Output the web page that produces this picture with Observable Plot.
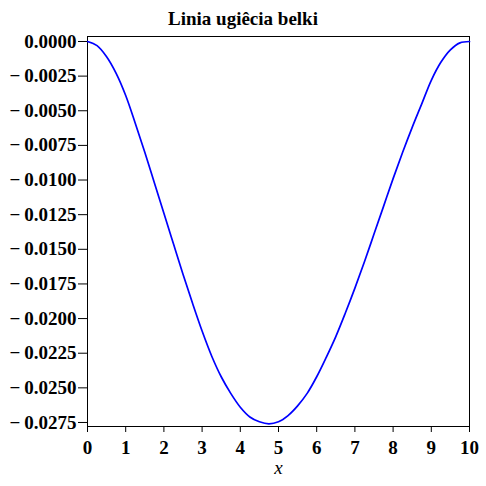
<!DOCTYPE html>
<html>
<head>
<meta charset="utf-8">
<script src="https://cdn.jsdelivr.net/npm/d3@7"></script>
<script src="https://cdn.jsdelivr.net/npm/@observablehq/plot@0.6"></script>
<style>
  html, body { margin: 0; padding: 0; background: #fff; }
  #title { box-sizing: border-box; width: 486px; height: 35px; padding-top: 9px;
    text-align: center; font-family: "Liberation Serif", serif; font-weight: bold;
    font-size: 19px; line-height: 19px; color: #000; }
  svg { display: block; }
  svg text { font-family: "Liberation Serif", serif !important; }
</style>
</head>
<body>
<div id="title"></div>
<div id="chart"></div>
<script>
const titleText = "Linia ugiêcia belki";
const xLabel = "x";
const xs = [0, 0.25, 0.5, 0.75, 1, 1.25, 1.5, 1.75, 2, 2.25, 2.5, 2.75, 3, 3.25, 3.5, 3.75, 4, 4.25, 4.5, 4.75, 5,
  5.25, 5.5, 5.75, 6, 6.25, 6.5, 6.75, 7, 7.25, 7.5, 7.75, 8, 8.25, 8.5, 8.75, 9, 9.25, 9.5, 9.75, 10];
const ys = [0, -0.0003, -0.0011, -0.0023, -0.0039, -0.0059, -0.0080, -0.0102, -0.0124, -0.0146, -0.0168, -0.0189,
  -0.0209, -0.0227, -0.0242, -0.0254, -0.0264, -0.0271, -0.02745, -0.0276, -0.02745,
  -0.0270, -0.0263, -0.0254, -0.0242, -0.0228, -0.0213, -0.0196, -0.0178, -0.0159, -0.0139, -0.0119,
  -0.0099, -0.0080, -0.0062, -0.0045, -0.0028, -0.0015, -0.0006, -0.0001, 0];
const xTicks = [0, 1, 2, 3, 4, 5, 6, 7, 8, 9, 10];
const yTicks = [0, -0.0025, -0.005, -0.0075, -0.01, -0.0125, -0.015, -0.0175, -0.02, -0.0225, -0.025, -0.0275];

document.getElementById("title").textContent = titleText;

const data = xs.map((x, i) => ({x, y: ys[i]}));
const fmtY = d => (d === 0 ? "" : "\u2212\u2009") + Math.abs(d).toFixed(4);

const chart = Plot.plot({
  width: 486,
  height: 451,
  marginTop: 1,
  marginLeft: 87,
  marginRight: 17,
  marginBottom: 60,
  style: {fontFamily: "'Liberation Serif', serif", fontWeight: "bold", fontSize: "19px", color: "#000", background: "#fff", overflow: "visible"},
  x: {domain: [0, 10]},
  y: {domain: [-0.02779, 0.00036]},
  marks: [
    Plot.frame({stroke: "#000"}),
    Plot.line(data, {x: "x", y: "y", stroke: "#0000ff", strokeWidth: 1.7, curve: "catmull-rom"}),
    Plot.axisX({ticks: xTicks, tickFormat: d => String(d), tickSize: 6, tickPadding: 8, label: null, fontSize: 19}),
    Plot.axisY({ticks: yTicks, tickFormat: fmtY, tickSize: 9, tickPadding: 2, label: null, fontSize: 19}),
    Plot.text([xLabel], {text: d => d, frameAnchor: "bottom", dy: 47, fontStyle: "italic", fontWeight: "normal", fontSize: 19})
  ]
});
document.getElementById("chart").appendChild(chart);
</script>
</body>
</html>
